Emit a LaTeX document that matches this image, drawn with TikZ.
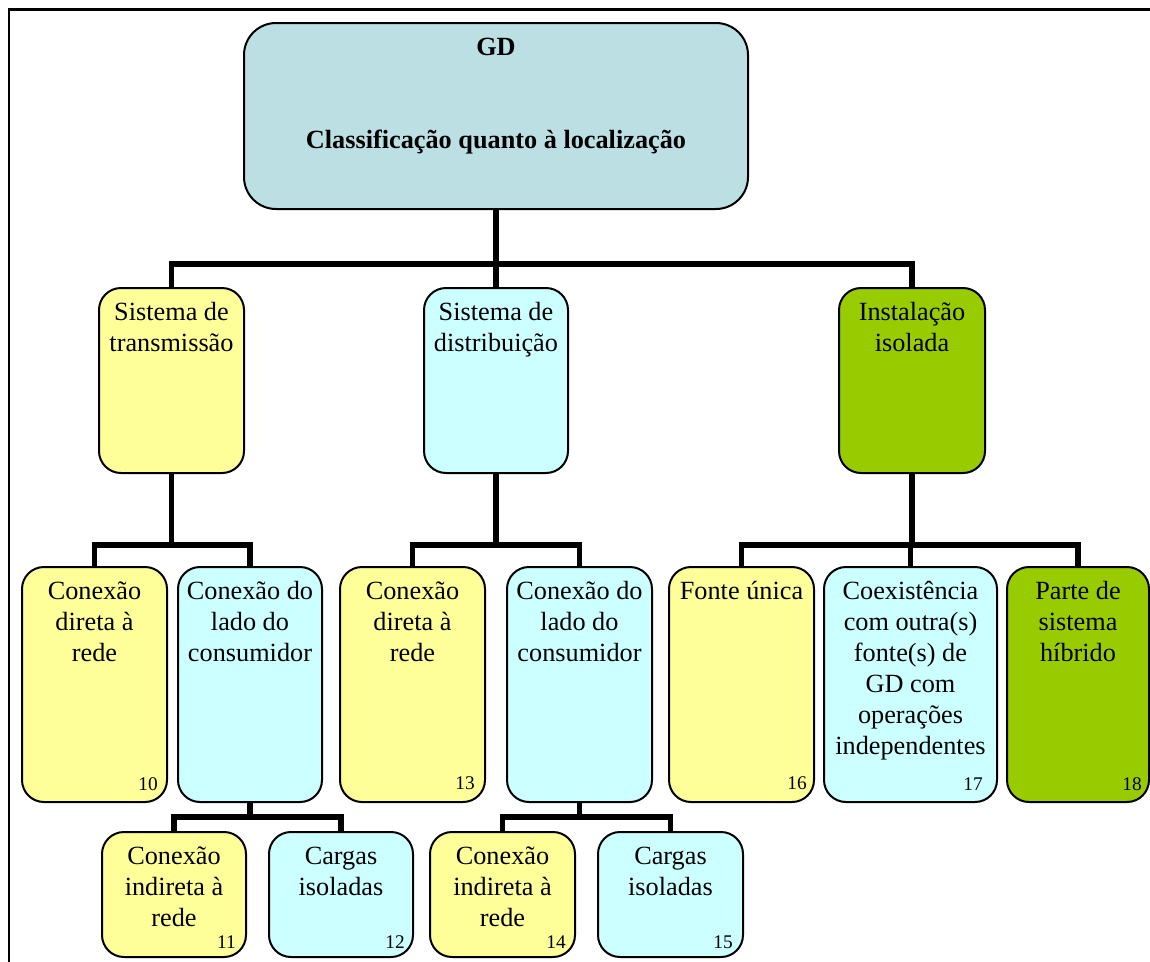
\documentclass[tikz,border=0pt]{standalone}
\usepackage{fontspec}
\setmainfont{Liberation Serif}
\definecolor{topblue}{RGB}{188,223,227}
\definecolor{yel}{RGB}{255,255,153}
\definecolor{cya}{RGB}{204,255,255}
\definecolor{grn}{RGB}{153,204,0}
\tikzset{
  box/.style={draw=black, line width=1.5pt, rounded corners=16.5pt, inner sep=0pt},
  topbox/.style={box, rounded corners=24pt},
  txt/.style={inner sep=0pt, align=center, font=\fontsize{19.7}{23.2}\selectfont},
  ttl/.style={inner sep=0pt, font=\fontsize{19.7}{23.2}\selectfont\bfseries},
  num/.style={inner sep=0pt, font=\fontsize{14.5}{16}\selectfont},
  conn/.style={draw=black, line width=4.2pt, line join=miter},
  frame/.style={draw=black, line width=1.7pt}
}
% name, x1, y1, x2, y2, fill, text
\newcommand\mkbox[7]{%
  \node[box, fill=#6, minimum width={(#4-#2)*0.75pt}, minimum height={(#5-#3)*0.75pt}] (#1) at ({(#2+#4)/2},{(#3+#5)/2}) {};
  \node[txt, anchor=north] (#1t) at ([yshift=-8.7pt]#1.north) {\strut #7};
}
\begin{document}
\begin{tikzpicture}[x=0.75pt,y=-0.75pt]
\useasboundingbox (0,0) rectangle (1150,961);
\draw[frame] (9,962) -- (9,9.5) -- (1151,9.5);

% bar levels
\coordinate (bar1) at (0,264);
\coordinate (bar2) at (0,545);
\coordinate (bar3) at (0,817);

% top box
\node[topbox, fill=topblue, minimum width={504*0.75pt}, minimum height={186*0.75pt}] (gd) at (496,116) {};
\node[ttl, anchor=base] (gdt1) at (496,55) {GD};
\node[ttl, anchor=base] (gdt2) at (496,148) {Classificação quanto à localização};

% level 2
\mkbox{tr}{99}{288}{244}{473}{yel}{Sistema de\\transmissão}
\mkbox{di}{424}{288}{568}{473}{cya}{Sistema de\\distribuição}
\mkbox{is}{839}{288}{985}{473}{grn}{Instalação\\isolada}

% level 3
\mkbox{a10}{22}{567}{167}{802}{yel}{Conexão\\direta à\\rede}
\mkbox{cons1}{178}{567}{322}{802}{cya}{Conexão do\\lado do\\consumidor}
\mkbox{a13}{340}{567}{485}{802}{yel}{Conexão\\direta à\\rede}
\mkbox{cons2}{507}{567}{652}{802}{cya}{Conexão do\\lado do\\consumidor}
\mkbox{a16}{669}{567}{814}{802}{yel}{Fonte única}
\mkbox{a17}{824}{567}{997}{802}{cya}{Coexistência\\com outra(s)\\fonte(s) de\\GD com\\operações\\independentes}
\mkbox{a18}{1007}{567}{1149}{802}{grn}{Parte de\\sistema\\híbrido}

% level 4
\mkbox{a11}{102}{832}{246}{957}{yel}{Conexão\\indireta à\\rede}
\mkbox{a12}{269}{832}{413}{957}{cya}{Cargas\\isoladas}
\mkbox{a14}{430}{832}{575}{957}{yel}{Conexão\\indireta à\\rede}
\mkbox{a15}{598}{832}{743}{957}{cya}{Cargas\\isoladas}

% numbers
\node[num, anchor=base east] (n10) at (158,790) {10};
\node[num, anchor=base east] (n11) at (236,948) {11};
\node[num, anchor=base east] (n12) at (405,948) {12};
\node[num, anchor=base east] (n13) at (475,789) {13};
\node[num, anchor=base east] (n14) at (566,948) {14};
\node[num, anchor=base east] (n15) at (733,948) {15};
\node[num, anchor=base east] (n16) at (807,789) {16};
\node[num, anchor=base east] (n17) at (983,790) {17};
\node[num, anchor=base east] (n18) at (1142,790) {18};

% connectors
\draw[conn] (gd.south) -- (gd.south |- bar1) -| (tr.north);
\draw[conn] (gd.south) -- (gd.south |- bar1) -| (di.north);
\draw[conn] (gd.south) -- (gd.south |- bar1) -| (is.north);

\draw[conn] (tr.south) -- (tr.south |- bar2) -| (a10.north);
\draw[conn] (tr.south) -- (tr.south |- bar2) -| (cons1.north);
\draw[conn] (di.south) -- (di.south |- bar2) -| (a13.north);
\draw[conn] (di.south) -- (di.south |- bar2) -| (cons2.north);
\draw[conn] (is.south) -- (is.south |- bar2) -| (a16.north);
\draw[conn] (is.south) -- (is.south |- bar2) -| (a17.north);
\draw[conn] (is.south) -- (is.south |- bar2) -| (a18.north);

\draw[conn] (cons1.south) -- (cons1.south |- bar3) -| (a11.north);
\draw[conn] (cons1.south) -- (cons1.south |- bar3) -| (a12.north);
\draw[conn] (cons2.south) -- (cons2.south |- bar3) -| (a14.north);
\draw[conn] (cons2.south) -- (cons2.south |- bar3) -| (a15.north);
\end{tikzpicture}
\end{document}
